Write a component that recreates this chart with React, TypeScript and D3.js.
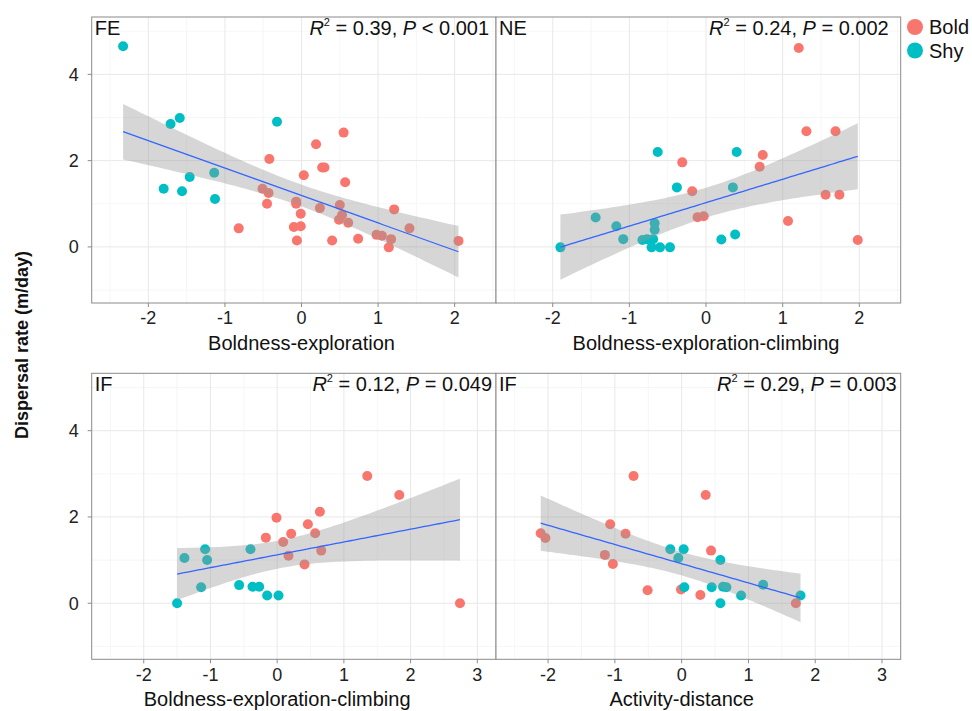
import React from "react";
import * as d3 from "d3";

// ---------- data ----------
const feBold: [number, number][] = [
  [0.55, 2.65], [0.19, 2.38], [-0.42, 2.04], [0.27, 1.84], [0.3, 1.84], [0.03, 1.66],
  [0.57, 1.5], [-0.51, 1.35], [-0.43, 1.25], [-0.45, 1.0], [-0.07, 1.05], [-0.07, 1.0],
  [0.24, 0.9], [0.5, 0.97], [-0.01, 0.77], [0.53, 0.74], [0.49, 0.63], [0.61, 0.56],
  [1.21, 0.87], [-0.82, 0.43], [-0.1, 0.46], [-0.01, 0.48], [-0.06, 0.15], [0.4, 0.15],
  [0.74, 0.19], [0.98, 0.28], [1.05, 0.26], [1.17, 0.18], [1.14, -0.01], [1.41, 0.43],
  [2.05, 0.14],
];
const feShy: [number, number][] = [
  [-2.33, 4.65], [-1.71, 2.85], [-1.59, 2.99], [-0.32, 2.9], [-1.46, 1.62],
  [-1.14, 1.72], [-1.8, 1.35], [-1.56, 1.29], [-1.13, 1.11],
];
const neBold: [number, number][] = [
  [1.21, 4.61], [1.31, 2.68], [1.69, 2.68], [0.74, 2.13], [0.7, 1.86], [-0.31, 1.96],
  [-0.18, 1.29], [1.56, 1.21], [1.74, 1.21], [-0.11, 0.69], [-0.03, 0.71], [1.07, 0.6],
  [1.98, 0.16],
];
const neShy: [number, number][] = [
  [-0.63, 2.2], [0.4, 2.2], [-0.38, 1.38], [0.35, 1.38], [-1.44, 0.68], [-1.17, 0.48],
  [-1.08, 0.18], [-1.9, -0.01], [-0.83, 0.16], [-0.67, 0.55], [-0.67, 0.4], [-0.69, 0.18],
  [-0.71, -0.01], [-0.6, -0.01], [-0.47, -0.01], [0.2, 0.17], [0.38, 0.29], [-0.77, 0.18],
];
const if1Bold: [number, number][] = [
  [1.35, 2.95], [1.83, 2.51], [0.64, 2.12], [-0.01, 1.98], [0.46, 1.83], [0.21, 1.61],
  [-0.17, 1.52], [0.57, 1.62], [0.09, 1.42], [0.17, 1.1], [0.66, 1.22], [0.41, 0.9],
  [2.74, 0.0],
];
const if1Shy: [number, number][] = [
  [-1.5, 0.0], [-1.39, 1.05], [-1.08, 1.25], [-1.05, 1.0], [-1.14, 0.37], [-0.4, 1.25],
  [-0.57, 0.42], [-0.37, 0.38], [-0.27, 0.38], [-0.15, 0.18], [0.02, 0.18],
];
const if2Bold: [number, number][] = [
  [-0.72, 2.95], [0.36, 2.51], [-1.07, 1.83], [-0.84, 1.61], [-2.11, 1.62], [-2.04, 1.51],
  [0.44, 1.22], [-1.15, 1.12], [-1.03, 0.91], [-0.51, 0.3], [-0.01, 0.32], [0.28, 0.19],
  [1.71, 0.0],
];
const if2Shy: [number, number][] = [
  [-0.17, 1.25], [0.03, 1.25], [-0.05, 1.05], [0.58, 1.0], [0.04, 0.37], [0.45, 0.37],
  [0.62, 0.38], [0.67, 0.37], [0.89, 0.18], [0.58, 0.0], [1.22, 0.43], [1.78, 0.18],
];

const panelLabels = ["FE", "NE", "IF", "IF"];
const r2Values = ["0.39", "0.24", "0.12", "0.29"];
const pOps = ["<", "=", "=", "="];
const pValues = ["0.001", "0.002", "0.049", "0.003"];
const xTitles = [
  "Boldness-exploration",
  "Boldness-exploration-climbing",
  "Boldness-exploration-climbing",
  "Activity-distance",
];
const topXTicks = [-2, -1, 0, 1, 2];
const bottomXTicks = [-2, -1, 0, 1, 2, 3];
const yTicks = [0, 2, 4];
const legendLabels = ["Bold", "Shy"];

const topXDomain: [number, number] = [-2.74, 2.54];
const bottomXDomain: [number, number] = [-2.78, 3.28];
const yDomain: [number, number] = [-1.3, 5.33];

// ---------- style ----------
const BOLD_COLOR = "#F8766D";
const SHY_COLOR = "#00BFC4";
const FONT = "'Liberation Sans', Arial, Helvetica, sans-serif";

function tQuant(df: number) {
  const z = 1.959964;
  return (
    z +
    (z ** 3 + z) / (4 * df) +
    (5 * z ** 5 + 16 * z ** 3 + 3 * z) / (96 * df * df) +
    (3 * z ** 7 + 19 * z ** 5 + 17 * z ** 3 - 15 * z) / (384 * df ** 3)
  );
}

function fit(points: [number, number][]) {
  const n = points.length;
  const mx = d3.mean(points, (p) => p[0])!;
  const my = d3.mean(points, (p) => p[1])!;
  let sxx = 0, sxy = 0;
  points.forEach(([x, y]) => {
    sxx += (x - mx) ** 2;
    sxy += (x - mx) * (y - my);
  });
  const b = sxy / sxx;
  const a = my - b * mx;
  let sse = 0;
  points.forEach(([x, y]) => (sse += (y - (a + b * x)) ** 2));
  const s = Math.sqrt(sse / (n - 2));
  const t = tQuant(n - 2);
  const [x0, x1] = d3.extent(points, (p) => p[0]) as [number, number];
  const xs = d3.range(0, 81).map((i) => x0 + ((x1 - x0) * i) / 80);
  return xs.map((x) => {
    const yhat = a + b * x;
    const se = s * Math.sqrt(1 / n + (x - mx) ** 2 / sxx);
    return { x, y: yhat, lo: yhat - t * se, hi: yhat + t * se };
  });
}

type PanelProps = {
  idx: number;
  bold: [number, number][];
  shy: [number, number][];
  xRange: [number, number];
  yRange: [number, number];
  xDomain: [number, number];
  xTicks: number[];
  showY: boolean;
  annotOffset: number;
  tickY: number;
  titleY: number;
};

function Panel(p: PanelProps) {
  const x = d3.scaleLinear().domain(p.xDomain).range(p.xRange);
  const y = d3.scaleLinear().domain(yDomain).range(p.yRange);
  const [left, right] = p.xRange;
  const [bottom, top] = p.yRange;
  const minorX = d3
    .range(Math.ceil(p.xDomain[0] * 2) / 2, p.xDomain[1], 0.5)
    .filter((v) => Math.abs(v % 1) > 0.01);
  const minorY = d3.range(-1, 6, 2);
  const all = [...p.bold, ...p.shy];
  const f = fit(all);
  const area = d3
    .area<{ x: number; lo: number; hi: number }>()
    .x((d) => x(d.x))
    .y0((d) => y(d.lo))
    .y1((d) => y(d.hi));
  const line = d3
    .line<{ x: number; y: number }>()
    .x((d) => x(d.x))
    .y((d) => y(d.y));
  return (
    <g>
      <rect x={left} y={top} width={right - left} height={bottom - top} fill="#fff" />
      {minorX.map((v) => (
        <line key={"mx" + v} x1={x(v)} x2={x(v)} y1={top} y2={bottom} stroke="#f4f4f4" strokeWidth={0.8} />
      ))}
      {minorY.map((v) => (
        <line key={"my" + v} x1={left} x2={right} y1={y(v)} y2={y(v)} stroke="#f4f4f4" strokeWidth={0.8} />
      ))}
      {p.xTicks.map((v) => (
        <line key={"gx" + v} x1={x(v)} x2={x(v)} y1={top} y2={bottom} stroke="#e8e8e8" strokeWidth={1} />
      ))}
      {yTicks.map((v) => (
        <line key={"gy" + v} x1={left} x2={right} y1={y(v)} y2={y(v)} stroke="#e8e8e8" strokeWidth={1} />
      ))}
      {p.bold.map((d, i) => (
        <circle key={"b" + i} cx={x(d[0])} cy={y(d[1])} r={5} fill={BOLD_COLOR} />
      ))}
      {p.shy.map((d, i) => (
        <circle key={"s" + i} cx={x(d[0])} cy={y(d[1])} r={5} fill={SHY_COLOR} />
      ))}
      <path d={area(f)!} fill="#999999" fillOpacity={0.4} />
      <path d={line(f)!} fill="none" stroke="#3366FF" strokeWidth={1.3} />
      <rect x={left} y={top} width={right - left} height={bottom - top} fill="none" stroke="#8a8a8a" strokeWidth={1} />
      {p.xTicks.map((v) => (
        <g key={"tx" + v}>
          <line x1={x(v)} x2={x(v)} y1={bottom} y2={bottom + 4} stroke="#8a8a8a" />
          <text x={x(v)} y={p.tickY} textAnchor="middle" fontSize={18} fill="#222">
            {v < 0 ? "-" + Math.abs(v) : v}
          </text>
        </g>
      ))}
      {p.showY &&
        yTicks.map((v) => (
          <g key={"ty" + v}>
            <line x1={left - 4} x2={left} y1={y(v)} y2={y(v)} stroke="#8a8a8a" />
            <text x={left - 13} y={y(v)} dy="0.36em" textAnchor="end" fontSize={18} fill="#222">
              {v}
            </text>
          </g>
        ))}
      <text x={x(0)} y={p.titleY} textAnchor="middle" fontSize={20} fill="#111">
        {xTitles[p.idx]}
      </text>
      <text x={left + 3} y={top + 18} fontSize={20} fill="#111">
        {panelLabels[p.idx]}
      </text>
      <text x={right - p.annotOffset} y={top + 18} textAnchor="end" fontSize={20} fill="#111">
        <tspan fontStyle="italic">R</tspan>
        <tspan fontSize={11} dy={-9}>2</tspan>
        <tspan dy={9}>{" = " + r2Values[p.idx] + ", "}</tspan>
        <tspan fontStyle="italic">P</tspan>
        <tspan>{" " + pOps[p.idx] + " " + pValues[p.idx]}</tspan>
      </text>
    </g>
  );
}

export default function App() {
  const topY: [number, number] = [303, 17];
  const botY: [number, number] = [659.3, 373.3];
  const leftX: [number, number] = [91.7, 496];
  const rightX: [number, number] = [496, 900.7];
  return (
    <svg
      width={972}
      height={711}
      style={{ position: "absolute", left: 0, top: 0, background: "#fff" }}
      fontFamily={FONT}
    >
      <rect width={972} height={711} fill="#fff" />
      <Panel idx={0} bold={feBold} shy={feShy} xRange={leftX} yRange={topY} xDomain={topXDomain}
        xTicks={topXTicks} showY annotOffset={7} tickY={324} titleY={350} />
      <Panel idx={1} bold={neBold} shy={neShy} xRange={rightX} yRange={topY} xDomain={topXDomain}
        xTicks={topXTicks} showY={false} annotOffset={12} tickY={324} titleY={350} />
      <Panel idx={2} bold={if1Bold} shy={if1Shy} xRange={leftX} yRange={botY} xDomain={bottomXDomain}
        xTicks={bottomXTicks} showY annotOffset={4} tickY={681} titleY={706} />
      <Panel idx={3} bold={if2Bold} shy={if2Shy} xRange={rightX} yRange={botY} xDomain={bottomXDomain}
        xTicks={bottomXTicks} showY={false} annotOffset={4} tickY={681} titleY={706} />
      <text
        transform="translate(28,345) rotate(-90)"
        textAnchor="middle"
        fontSize={18}
        fontWeight="bold"
        fill="#111"
      >
        Dispersal rate (m/day)
      </text>
      {legendLabels.map((l, i) => (
        <g key={l}>
          <circle cx={915} cy={27 + i * 23.5} r={8} fill={i === 0 ? BOLD_COLOR : SHY_COLOR} />
          <text x={929} y={34 + i * 23.5} fontSize={20} fill="#111">
            {l}
          </text>
        </g>
      ))}
    </svg>
  );
}
